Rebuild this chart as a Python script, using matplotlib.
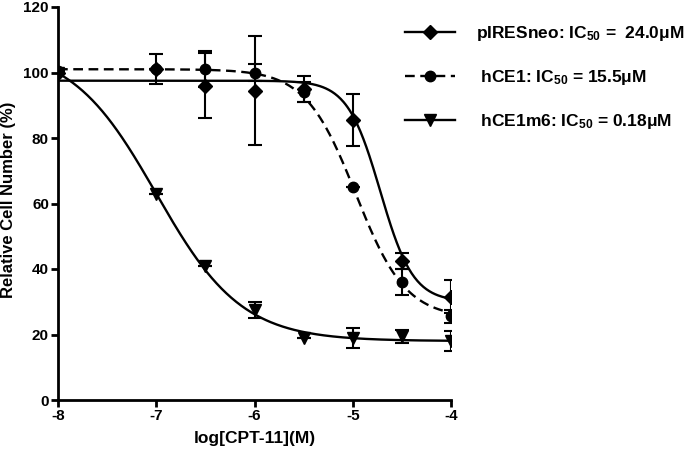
import numpy as np
import matplotlib
matplotlib.use("Agg")
import matplotlib.pyplot as plt

plt.rcParams['font.family'] = ['Liberation Sans', 'DejaVu Sans']
plt.rcParams['font.weight'] = 'bold'
plt.rcParams['mathtext.fontset'] = 'custom'
plt.rcParams['mathtext.bf'] = 'Liberation Sans:bold'
plt.rcParams['mathtext.rm'] = 'Liberation Sans:bold'
plt.rcParams['mathtext.default'] = 'bf'
plt.rcParams['lines.scale_dashes'] = False
plt.rcParams['axes.unicode_minus'] = False

# log[CPT-11] concentrations
log_conc = [-8, -7, -6.5, -6, -5.5, -5, -4.5, -4]

# pIRESneo (diamonds)
pires_mean = [100, 101, 96, 94.5, 95, 85.5, 42.5, 31.5]
pires_err = [0, 0, 10, 16.5, 4, 8, 2.5, 5]

# hCE1 (circles, dashed)
hce1_mean = [100.5, 101, 101, 100, 94, 65, 36, 25.5]
hce1_err = [0, 4.5, 5.5, 2.5, 3, 0, 4, 2]

# hCE1m6 (triangles)
m6_mean = [100, 63, 41, 27.5, 19, 19, 19.5, 18]
m6_err = [0, 0, 0, 2.5, 0, 3, 2, 3]

# fitted sigmoid parameters: top, bottom, logIC50, hill slope
pires_fit = (97.5, 30, -4.72, 2.6)
hce1_fit = (101, 25, -4.97, 1.7)
m6_fit = (108, 18, -7.0, 1.0)

labels = ['pIRESneo: IC$_{50}$ =  24.0\u03bcM',
          ' hCE1: IC$_{50}$ = 15.5\u03bcM',
          ' hCE1m6: IC$_{50}$ = 0.18\u03bcM']


def sigmoid(x, p):
    top, bottom, c, h = p
    return bottom + (top - bottom) / (1 + 10 ** ((x - c) * h))


fig = plt.figure(figsize=(6.91, 4.53), dpi=100)
ax = fig.add_axes([58 / 691, 53 / 453, 393 / 691, 393 / 453])

xs = np.linspace(-8, -4, 400)
series = [
    (pires_mean, pires_err, pires_fit, 'D', '-', 7),
    (hce1_mean, hce1_err, hce1_fit, 'o', (0, (7, 4)), 7.5),
    (m6_mean, m6_err, m6_fit, 'v', '-', 8.5),
]
handles = []
for mean, err, fit, mk, ls, ms in series:
    ax.errorbar(log_conc, mean, yerr=err, fmt=mk, color='black', ms=ms,
                elinewidth=1.5, capsize=5, capthick=1.5, zorder=3)
    ax.plot(xs, sigmoid(xs, fit), color='black', lw=1.7, ls=ls, zorder=2)
    h, = ax.plot([], [], color='black', lw=1.7, ls=ls, marker=mk, ms=ms)
    handles.append(h)

ax.set_xlim(-8, -4)
ax.set_ylim(0, 120)
ax.set_xticks([-8, -7, -6, -5, -4])
ax.set_yticks(range(0, 121, 20))
for s in ['top', 'right']:
    ax.spines[s].set_visible(False)
for s in ['left', 'bottom']:
    ax.spines[s].set_linewidth(2)
ax.tick_params(width=2, length=5, labelsize=11, direction='out', pad=1.5)
for t in ax.get_xticklabels() + ax.get_yticklabels():
    t.set_fontweight('bold')
ax.set_xlabel('log[CPT-11](M)', fontsize=12.5, fontweight='bold', labelpad=6)
ax.set_ylabel('Relative Cell Number (%)', fontsize=12, fontweight='bold')
ax.yaxis.set_label_coords(-0.108, 0.51)

fig.legend(handles, labels, loc='upper left', bbox_to_anchor=(405 / 691, 1 - 24 / 453),
           frameon=False, handlelength=2.9, handletextpad=1.2,
           labelspacing=1.45, borderpad=0, borderaxespad=0,
           prop={'weight': 'bold', 'size': 12.5})

fig.savefig('out.png', dpi=100)
